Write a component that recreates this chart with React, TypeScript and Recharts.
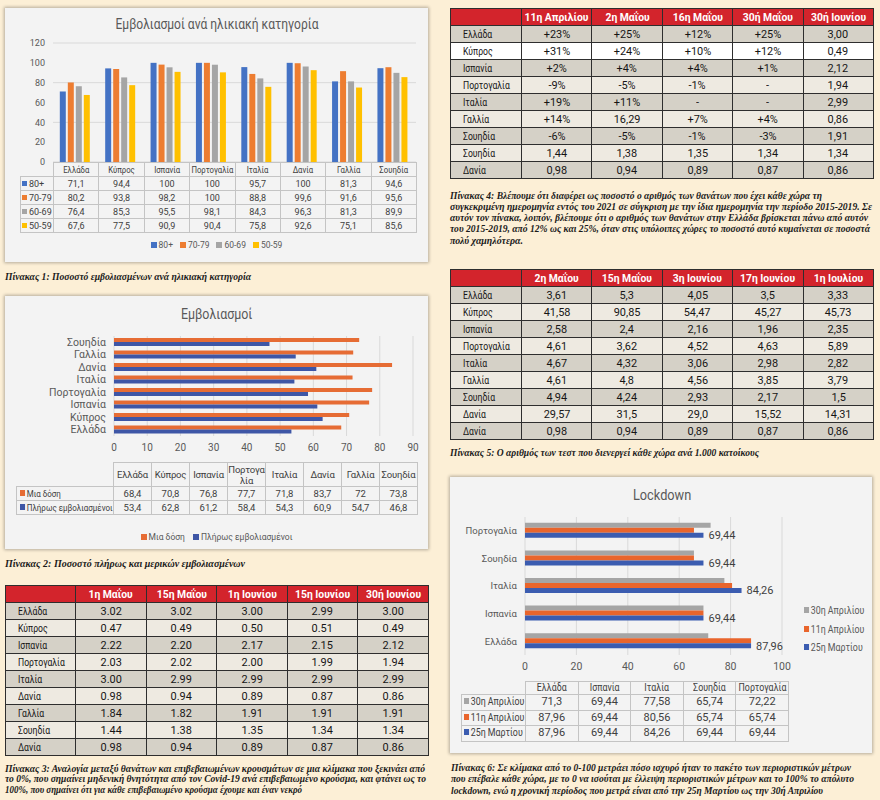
import React from 'react'
import { BarChart, Bar, XAxis, YAxis, CartesianGrid, LabelList } from 'recharts'

// fonts
const CHART_FONT = 'Roboto, "Noto Sans", sans-serif'
const TABLE_FONT = 'Roboto, "Noto Sans", sans-serif'
const CAPTION_FONT = '"Liberation Serif", "DejaVu Serif", serif'

// Πίνακας 1: εμβολιασμοί ανά ηλικιακή κατηγορία
const ageCountries = ['Ελλάδα', 'Κύπρος', 'Ισπανία', 'Πορτογαλία', 'Ιταλία', 'Δανία', 'Γαλλία', 'Σουηδία']
const age80 = [71.1, 94.4, 100, 100, 95.7, 100, 81.3, 94.6]
const age70 = [80.2, 93.8, 98.2, 100, 88.8, 99.6, 91.6, 95.6]
const age60 = [76.4, 85.3, 95.5, 98.1, 84.3, 96.3, 81.3, 89.9]
const age50 = [67.6, 77.5, 90.9, 90.4, 75.8, 92.6, 75.1, 85.6]
const ageTicks = [0, 20, 40, 60, 80, 100, 120]

// Πίνακας 2: πλήρως / μια δόση
const doseCountries = ['Ελλάδα', 'Κύπρος', 'Ισπανία', 'Πορτογαλία', 'Ιταλία', 'Δανία', 'Γαλλία', 'Σουηδία']
const oneDose = [68.4, 70.8, 76.8, 77.7, 71.8, 83.7, 72, 73.8]
const fullDose = [53.4, 62.8, 61.2, 58.4, 54.3, 60.9, 54.7, 46.8]
const doseTicks = [0, 10, 20, 30, 40, 50, 60, 70, 80, 90]

// Πίνακας 6: lockdown
const lockCountries = ['Ελλάδα', 'Ισπανία', 'Ιταλία', 'Σουηδία', 'Πορτογαλία']
const apr30 = [71.3, 69.44, 77.58, 65.74, 72.22]
const apr11 = [87.96, 69.44, 80.56, 65.74, 65.74]
const mar25 = [87.96, 69.44, 84.26, 69.44, 69.44]
const lockTicks = [0, 20, 40, 60, 80, 100]

// Πίνακας 3
const t3Dates = ['1η Μαΐου', '15η Μαΐου', '1η Ιουνίου', '15η Ιουνίου', '30ή Ιουνίου']
const t3Countries = ['Ελλάδα', 'Κύπρος', 'Ισπανία', 'Πορτογαλία', 'Ιταλία', 'Δανία', 'Γαλλία', 'Σουηδία', 'Δανία']
const t3Values = [
  ['3.02', '3.02', '3.00', '2.99', '3.00'],
  ['0.47', '0.49', '0.50', '0.51', '0.49'],
  ['2.22', '2.20', '2.17', '2.15', '2.12'],
  ['2.03', '2.02', '2.00', '1.99', '1.94'],
  ['3.00', '2.99', '2.99', '2.99', '2.99'],
  ['0.98', '0.94', '0.89', '0.87', '0.86'],
  ['1.84', '1.82', '1.91', '1.91', '1.91'],
  ['1.44', '1.38', '1.35', '1.34', '1.34'],
  ['0.98', '0.94', '0.89', '0.87', '0.86'],
]

// Πίνακας 4
const t4Dates = ['11η Απριλίου', '2η Μαΐου', '16η Μαΐου', '30ή Μαΐου', '30ή Ιουνίου']
const t4Countries = ['Ελλάδα', 'Κύπρος', 'Ισπανία', 'Πορτογαλία', 'Ιταλία', 'Γαλλία', 'Σουηδία', 'Σουηδία', 'Δανία']
const t4Values = [
  ['+23%', '+25%', '+12%', '+25%', '3,00'],
  ['+31%', '+24%', '+10%', '+12%', '0,49'],
  ['+2%', '+4%', '+4%', '+1%', '2,12'],
  ['-9%', '-5%', '-1%', '-', '1,94'],
  ['+19%', '+11%', '-', '-', '2,99'],
  ['+14%', '16,29', '+7%', '+4%', '0,86'],
  ['-6%', '-5%', '-1%', '-3%', '1,91'],
  ['1,44', '1,38', '1,35', '1,34', '1,34'],
  ['0,98', '0,94', '0,89', '0,87', '0,86'],
]

// Πίνακας 5
const t5Dates = ['2η Μαΐου', '15η Μαΐου', '3η Ιουνίου', '17η Ιουνίου', '1η Ιουλίου']
const t5Countries = ['Ελλάδα', 'Κύπρος', 'Ισπανία', 'Πορτογαλία', 'Ιταλία', 'Γαλλία', 'Σουηδία', 'Δανία', 'Δανία']
const t5Values = [
  ['3,61', '5,3', '4,05', '3,5', '3,33'],
  ['41,58', '90,85', '54,47', '45,27', '45,73'],
  ['2,58', '2,4', '2,16', '1,96', '2,35'],
  ['4,61', '3,62', '4,52', '4,63', '5,89'],
  ['4,67', '4,32', '3,06', '2,98', '2,82'],
  ['4,61', '4,8', '4,56', '3,85', '3,79'],
  ['4,94', '4,24', '2,93', '2,17', '1,5'],
  ['29,57', '31,5', '29,0', '15,52', '14,31'],
  ['0,98', '0,94', '0,89', '0,87', '0,86'],
]

const fmt = (v: any) => String(v).replace('.', ',')

const panel: React.CSSProperties = {
  position: 'absolute',
  background: '#f3f3f3',
  boxShadow: '0 0 3px 1px rgba(0,0,0,0.28)',
  fontFamily: CHART_FONT,
  color: '#595959',
}

const Swatch = ({ color, size = 6 }: { color: string; size?: number }) => (
  <span style={{ display: 'inline-block', width: size, height: size, background: color, marginRight: 2, verticalAlign: 'middle', position: 'relative', top: -1 }} />
)

// condensed text: the installed Greek face is wider than the print one, so squeeze it horizontally
const Narrow = ({ children, left, scale = 0.86 }: { children: React.ReactNode; left?: boolean; scale?: number }) => (
  <div style={{ display: 'flex', justifyContent: left ? 'flex-start' : 'center' }}>
    <span style={{ flexShrink: 0, display: 'inline-block', transform: `scaleX(${scale})`, transformOrigin: left ? 'left center' : 'center' }}>
      {children}
    </span>
  </div>
)

const chartCell: React.CSSProperties = {
  border: '1px solid #c4c4c4',
  padding: 0,
  textAlign: 'center',
  whiteSpace: 'nowrap',
  overflow: 'hidden',
}
const labelCell: React.CSSProperties = { ...chartCell, textAlign: 'left', paddingLeft: 1, overflow: 'visible' }

function AgeChart() {
  const series = [
    { key: 'a80', name: '80+', color: '#4472C4', values: age80 },
    { key: 'a70', name: '70-79', color: '#ED7D31', values: age70 },
    { key: 'a60', name: '60-69', color: '#A5A5A5', values: age60 },
    { key: 'a50', name: '50-59', color: '#FFC000', values: age50 },
  ]
  const data = ageCountries.map((c, i) => ({ name: c, a80: age80[i], a70: age70[i], a60: age60[i], a50: age50[i] }))
  const colW = 363 / ageCountries.length
  return (
    <div style={{ ...panel, left: 5, top: 8, width: 423, height: 254 }}>
      <div style={{ position: 'absolute', top: 8, left: 0, width: 423, fontSize: 14 }}>
        <Narrow scale={0.86}>Εμβολιασμοί ανά ηλικιακή κατηγορία</Narrow>
      </div>
      <div style={{ position: 'absolute', left: 0, top: 0 }}>
        <BarChart width={423} height={160} data={data} margin={{ top: 35, right: 12, bottom: 6, left: 0 }} barCategoryGap="15%" barGap={2}>
          <CartesianGrid vertical={false} stroke="#d9d9d9" />
          <XAxis dataKey="name" hide />
          <YAxis domain={[0, 120]} ticks={ageTicks} width={48} axisLine={false} tickLine={false} tick={{ fontSize: 9, fill: '#595959' }} />
          {series.map(s => (
            <Bar key={s.key} dataKey={s.key} name={s.name} fill={s.color} isAnimationActive={false} />
          ))}
        </BarChart>
      </div>
      <table style={{ position: 'absolute', left: 15, top: 154, borderCollapse: 'collapse', tableLayout: 'fixed', width: 33 + 363, fontSize: 9, color: '#404040', lineHeight: '12px' }}>
        <colgroup>
          <col style={{ width: 33 }} />
          {ageCountries.map((c, i) => <col key={i} style={{ width: colW }} />)}
        </colgroup>
        <tbody>
          <tr style={{ height: 14 }}>
            <td style={{ padding: 0 }} />
            {ageCountries.map((c, i) => <td key={i} style={chartCell}><Narrow scale={0.86}>{c}</Narrow></td>)}
          </tr>
          {series.map(s => (
            <tr key={s.key} style={{ height: 14 }}>
              <td style={labelCell}><Swatch color={s.color} size={5} />{s.name}</td>
              {s.values.map((v, i) => <td key={i} style={chartCell}>{fmt(v)}</td>)}
            </tr>
          ))}
        </tbody>
      </table>
      <div style={{ position: 'absolute', top: 231, left: 0, width: 423, display: 'flex', justifyContent: 'center', gap: 7, fontSize: 8.5, lineHeight: '12px' }}>
        {series.map(s => <span key={s.key}><Swatch color={s.color} />{s.name}</span>)}
      </div>
    </div>
  )
}

function DoseChart() {
  const series = [
    { key: 'one', name: 'Μια δόση', color: '#E66C34', values: oneDose },
    { key: 'full', name: 'Πλήρως εμβολιασμένοι', color: '#3E56A6', values: fullDose },
  ]
  const data = doseCountries.map((c, i) => ({ name: c, one: oneDose[i], full: fullDose[i] }))
  return (
    <div style={{ ...panel, left: 5, top: 296, width: 423, height: 253 }}>
      <div style={{ position: 'absolute', top: 9, left: 0, width: 423, fontSize: 15.5 }}>
        <Narrow scale={0.8}>Εμβολιασμοί</Narrow>
      </div>
      <div style={{ position: 'absolute', left: 0, top: 0 }}>
        <BarChart layout="vertical" width={423} height={170} data={data} margin={{ top: 40, right: 15, bottom: 0, left: 0 }} barCategoryGap="16%" barGap={0}>
          <CartesianGrid horizontal={false} stroke="#d9d9d9" />
          <XAxis type="number" domain={[0, 90]} ticks={doseTicks} height={30} axisLine={false} tickLine={false} tick={{ fontSize: 10, fill: '#595959' }} />
          <YAxis type="category" dataKey="name" reversed interval={0} width={109} axisLine={false} tickLine={false} tick={{ fontSize: 10.5, fill: '#595959' }} />
          {series.map(s => (
            <Bar key={s.key} dataKey={s.key} name={s.name} fill={s.color} isAnimationActive={false} />
          ))}
        </BarChart>
      </div>
      <table style={{ position: 'absolute', left: 11, top: 166, borderCollapse: 'collapse', tableLayout: 'fixed', width: 97 + 304, fontSize: 9.5, color: '#404040', lineHeight: '11px' }}>
        <colgroup>
          <col style={{ width: 97 }} />
          {doseCountries.map((c, i) => <col key={i} style={{ width: 38 }} />)}
        </colgroup>
        <tbody>
          <tr style={{ height: 24 }}>
            <td style={{ padding: 0 }} />
            {doseCountries.map((c, i) => (
              <td key={i} style={{ ...chartCell, whiteSpace: 'normal', wordBreak: 'break-all', letterSpacing: -0.2 }}>{c}</td>
            ))}
          </tr>
          {series.map(s => (
            <tr key={s.key} style={{ height: 14 }}>
              <td style={{ ...labelCell, paddingLeft: 3 }}><Narrow left scale={0.84}><Swatch color={s.color} />{s.name}</Narrow></td>
              {s.values.map((v, i) => <td key={i} style={chartCell}>{fmt(v)}</td>)}
            </tr>
          ))}
        </tbody>
      </table>
      <div style={{ position: 'absolute', top: 235, left: 0, width: 423, display: 'flex', justifyContent: 'center', gap: 8, fontSize: 8.5, lineHeight: '12px' }}>
        {series.map(s => <span key={s.key}><Swatch color={s.color} />{s.name}</span>)}
      </div>
    </div>
  )
}

function LockdownChart() {
  const series = [
    { key: 'apr30', name: '30η Απριλίου', color: '#A5A5A5', values: apr30 },
    { key: 'apr11', name: '11η Απριλίου', color: '#E9652C', values: apr11 },
    { key: 'mar25', name: '25η Μαρτίου', color: '#3B5CB0', values: mar25 },
  ]
  const data = lockCountries.map((c, i) => ({ name: c, apr30: apr30[i], apr11: apr11[i], mar25: mar25[i] }))
  const colW = 263 / lockCountries.length
  return (
    <div style={{ ...panel, left: 450, top: 477, width: 422, height: 276 }}>
      <div style={{ position: 'absolute', top: 10, left: 0, width: 424, fontSize: 14.5 }}>
        <Narrow scale={0.88}>Lockdown</Narrow>
      </div>
      <div style={{ position: 'absolute', left: 0, top: 0 }}>
        <BarChart layout="vertical" width={422} height={202} data={data} margin={{ top: 40, right: 90, bottom: 0, left: 0 }} barCategoryGap="21%" barGap={0}>
          <CartesianGrid horizontal={false} stroke="#d9d9d9" />
          <XAxis type="number" domain={[0, 100]} ticks={lockTicks} height={24} axisLine={false} tickLine={false} tick={{ fontSize: 10.5, fill: '#595959' }} />
          <YAxis type="category" dataKey="name" reversed interval={0} width={75} axisLine={false} tickLine={false} tick={{ fontSize: 9.5, fill: '#595959' }} />
          {series.map(s => (
            <Bar key={s.key} dataKey={s.key} name={s.name} fill={s.color} isAnimationActive={false}>
              {s.key === 'mar25' && (
                <LabelList dataKey="mar25" position="right" formatter={fmt} fontSize={11} fill="#404040" />
              )}
            </Bar>
          ))}
        </BarChart>
      </div>
      <div style={{ position: 'absolute', left: 354, top: 125, fontSize: 10.5, lineHeight: '18.5px', whiteSpace: 'nowrap' }}>
        {series.map(s => <Narrow key={s.key} left scale={0.84}><Swatch color={s.color} />{s.name}</Narrow>)}
      </div>
      <table style={{ position: 'absolute', left: 11, top: 204, borderCollapse: 'collapse', tableLayout: 'fixed', width: 64 + 263, fontSize: 10.5, color: '#404040', lineHeight: '12px' }}>
        <colgroup>
          <col style={{ width: 64 }} />
          {lockCountries.map((c, i) => <col key={i} style={{ width: colW }} />)}
        </colgroup>
        <tbody>
          <tr style={{ height: 13 }}>
            <td style={{ padding: 0 }} />
            {lockCountries.map((c, i) => <td key={i} style={chartCell}><Narrow scale={0.84}>{c}</Narrow></td>)}
          </tr>
          {series.map(s => (
            <tr key={s.key} style={{ height: 15.5 }}>
              <td style={{ ...labelCell, paddingLeft: 2 }}><Narrow left scale={0.84}><Swatch color={s.color} />{s.name}</Narrow></td>
              {s.values.map((v, i) => <td key={i} style={{ ...chartCell, fontSize: 11 }}>{fmt(v)}</td>)}
            </tr>
          ))}
        </tbody>
      </table>
    </div>
  )
}

const redCell: React.CSSProperties = {
  border: '1px solid #2e2e2e',
  padding: 0,
  whiteSpace: 'nowrap',
}

function RedTable({ left, top, firstW, colW, dates, countries, values, rowBg }: any) {
  return (
    <table style={{ position: 'absolute', left, top, borderCollapse: 'collapse', tableLayout: 'fixed', width: firstW + colW * dates.length, fontFamily: TABLE_FONT, fontSize: 11.5, color: '#151515', lineHeight: '15px', border: '1px solid #2e2e2e' }}>
      <colgroup>
        <col style={{ width: firstW }} />
        {dates.map((d: string, i: number) => <col key={i} style={{ width: colW }} />)}
      </colgroup>
      <tbody>
        <tr style={{ height: 17, background: '#d3242c', color: '#fff', fontWeight: 'bold' }}>
          <td style={redCell} />
          {dates.map((d: string, i: number) => <td key={i} style={redCell}><Narrow scale={0.9}>{d}</Narrow></td>)}
        </tr>
        {countries.map((c: string, r: number) => (
          <tr key={r} style={{ height: 17, background: rowBg(r) }}>
            <td style={{ ...redCell, paddingLeft: 12 }}><Narrow left scale={0.75}>{c}</Narrow></td>
            {values[r].map((v: string, i: number) => <td key={i} style={redCell}><Narrow scale={0.95}>{v}</Narrow></td>)}
          </tr>
        ))}
      </tbody>
    </table>
  )
}

const GRAY_ROW = '#d5d1c7'
const LIGHT_ROW = '#eeeae1'
const altRow = (r: number) => (r % 2 === 0 ? GRAY_ROW : LIGHT_ROW)
const t4Row = (r: number) => (r === 1 ? '#ffffff' : altRow(r))

// caption lines: text, x, center y, width
const captions = [
  { x: 5, y: 276, w: 246, t: 'Πίνακας 1: Ποσοστό εμβολιασμένων ανά ηλικιακή κατηγορία' },
  { x: 5, y: 563, w: 240, t: 'Πίνακας 2: Ποσοστό πλήρως και μερικών εμβολιασμένων' },
  { x: 5, y: 768, w: 420, t: 'Πίνακας 3: Αναλογία μεταξύ θανάτων και επιβεβαιωμένων κρουσμάτων σε μια κλίμακα που ξεκινάει από' },
  { x: 5, y: 778.5, w: 421, t: 'το 0%, που σημαίνει μηδενική θνητότητα από τον Covid-19 ανά επιβεβαιωμένο κρούσμα, και φτάνει ως το' },
  { x: 5, y: 789, w: 297, t: '100%, που σημαίνει ότι για κάθε επιβεβαιωμένο κρούσμα έχουμε και έναν νεκρό' },
  { x: 450, y: 195, w: 372, t: 'Πίνακας 4: Βλέπουμε ότι διαφέρει ως ποσοστό ο αριθμός των θανάτων που έχει κάθε χώρα τη' },
  { x: 450, y: 206.5, w: 422, t: 'συγκεκριμένη ημερομηνία εντός του 2021 σε σύγκριση με την ίδια ημερομηνία την περίοδο 2015-2019. Σε' },
  { x: 450, y: 217.5, w: 418, t: 'αυτόν τον πίνακα, λοιπόν, βλέπουμε ότι ο αριθμός των θανάτων στην Ελλάδα βρίσκεται πάνω από αυτόν' },
  { x: 450, y: 228.5, w: 420, t: 'του 2015-2019, από 12% ως και 25%, όταν στις υπόλοιπες χώρες το ποσοστό αυτό κυμαίνεται σε ποσοστά' },
  { x: 450, y: 240, w: 73, t: 'πολύ χαμηλότερα.' },
  { x: 450, y: 452, w: 309, t: 'Πίνακας 5: Ο αριθμός των τεστ που διενεργεί κάθε χώρα ανά 1.000 κατοίκους' },
  { x: 451, y: 767, w: 400, t: 'Πίνακας 6: Σε κλίμακα από το 0-100 μετράει πόσο ισχυρό ήταν το πακέτο των περιοριστικών μέτρων' },
  { x: 451, y: 778.5, w: 403, t: 'που επέβαλε κάθε χώρα, με το 0 να ισούται με έλλειψη περιοριστικών μέτρων και το 100% το απόλυτο' },
  { x: 451, y: 790, w: 372, t: 'lockdown, ενώ η χρονική περίοδος που μετρά είναι από την 25η Μαρτίου ως την 30ή Απριλίου' },
]

export default function App() {
  return (
    <div style={{ position: 'absolute', left: 0, top: 0, width: 880, height: 800, background: '#fcefd6', overflow: 'hidden' }}>
      <AgeChart />
      <DoseChart />
      <LockdownChart />
      <RedTable left={5} top={585} firstW={70} colW={70.6} dates={t3Dates} countries={t3Countries} values={t3Values} rowBg={altRow} />
      <RedTable left={450} top={8} firstW={71} colW={70.4} dates={t4Dates} countries={t4Countries} values={t4Values} rowBg={t4Row} />
      <RedTable left={450} top={269} firstW={71} colW={70.4} dates={t5Dates} countries={t5Countries} values={t5Values} rowBg={altRow} />
      <svg width={880} height={800} style={{ position: 'absolute', left: 0, top: 0, pointerEvents: 'none' }}>
        {captions.map((c, i) => (
          <text key={i} x={c.x} y={c.y + 3.5} textLength={c.w} lengthAdjust="spacingAndGlyphs" fontFamily={CAPTION_FONT} fontSize={10} fontWeight="bold" fontStyle="italic" fill="#1a1a1a">
            {c.t}
          </text>
        ))}
      </svg>
    </div>
  )
}
